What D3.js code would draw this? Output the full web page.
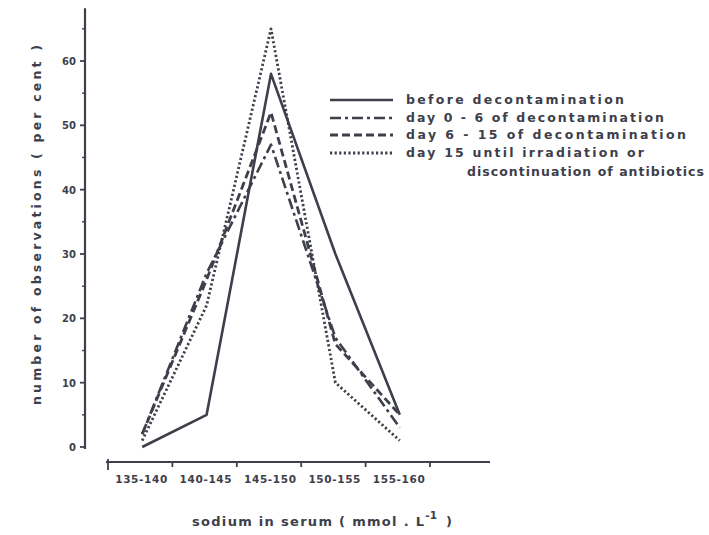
<!DOCTYPE html>
<html>
<head>
<meta charset="utf-8">
<script src="https://cdn.jsdelivr.net/npm/d3@7"></script>
<style>
  html, body { margin: 0; padding: 0; background: #fff; }
  svg text { font-family: "DejaVu Sans", Lato, sans-serif; font-weight: bold; fill: #3d404b; }
</style>
</head>
<body>
<svg id="chart" width="709" height="535"></svg>
<script>
// Sodium ranges (mmol/l) on the x axis
const categories = ["135-140", "140-145", "145-150", "150-155", "155-160"];

// Percentage of observations per period
const beforeDecon = [0, 5, 58, 30, 5];
const day0to6 = [2, 27, 47, 17, 3];
const day6to15 = [2, 26, 52, 16, 5];
const day15on = [1, 22, 65, 10, 1];

const yTicks = [0, 10, 20, 30, 40, 50, 60];
const yMinorTicks = [5, 15, 25, 35, 45, 55, 65];

const seriesNames = [
  ["before decontamination"],
  ["day 0 - 6 of decontamination"],
  ["day 6 - 15 of decontamination"],
  ["day 15 until irradiation or", "discontinuation of antibiotics"]
];

const ink = "#3d404b";
const svg = d3.select("#chart");

const x = d3.scaleBand().domain(categories).range([108, 430]);
const y = d3.scaleLinear().domain([0, 60]).range([447, 61]);

// stretch a text element to a given width by spacing its letters
function fit(sel, w) {
  return sel.attr("textLength", w).attr("lengthAdjust", "spacing");
}

// y axis
const yAxisX = 85;
svg.append("line")
  .attr("x1", yAxisX).attr("x2", yAxisX)
  .attr("y1", y(68.2)).attr("y2", y(-0.3))
  .attr("stroke", ink).attr("stroke-width", 2.2);

svg.selectAll(".ymaj").data(yTicks).join("line")
  .attr("x1", yAxisX - 5).attr("x2", yAxisX)
  .attr("y1", d => y(d)).attr("y2", d => y(d))
  .attr("stroke", ink).attr("stroke-width", 1.8);

svg.selectAll(".ymin").data(yMinorTicks).join("line")
  .attr("x1", yAxisX - 3).attr("x2", yAxisX)
  .attr("y1", d => y(d)).attr("y2", d => y(d))
  .attr("stroke", ink).attr("stroke-width", 1.4);

svg.selectAll(".ylab").data(yTicks).join("text")
  .attr("x", yAxisX - 9).attr("y", d => y(d) + 4)
  .attr("text-anchor", "end")
  .attr("font-size", 10)
  .text(d => d);

// x axis
const xAxisY = 462;
svg.append("line")
  .attr("x1", 106).attr("x2", 490)
  .attr("y1", xAxisY).attr("y2", xAxisY)
  .attr("stroke", ink).attr("stroke-width", 2.2);

const bounds = categories.map(c => x(c)).concat([x.range()[1]]);
svg.selectAll(".xtick").data(bounds).join("line")
  .attr("x1", d => d).attr("x2", d => d)
  .attr("y1", (d, i) => i === 0 ? xAxisY - 3 : xAxisY)
  .attr("y2", (d, i) => i === 0 ? xAxisY + 8 : xAxisY + 5)
  .attr("stroke", ink).attr("stroke-width", 1.8);

svg.selectAll(".xlab").data(categories).join("text")
  .attr("x", d => x(d) + x.bandwidth() / 2 - 25)
  .attr("y", 483)
  .attr("font-size", 10.5)
  .attr("textLength", 52).attr("lengthAdjust", "spacing")
  .text(d => d);

// axis titles
fit(svg.append("text")
  .attr("transform", "translate(41,405) rotate(-90)")
  .attr("font-size", 12.5)
  .text("number  of observations  ( per cent )"), 360);

const xTitle = svg.append("text")
  .attr("x", 192).attr("y", 526)
  .attr("font-size", 13);
fit(xTitle.append("tspan"), 232).text("sodium in serum ( mmol . L");
xTitle.append("tspan").attr("dy", -7).attr("font-size", 10.5).text("-1");
fit(xTitle.append("tspan").attr("dx", 9).attr("dy", 7), 8).text(")");

// series lines
const styles = [
  { data: beforeDecon, dash: null, width: 2.6 },
  { data: day0to6, dash: "11,4,3,4", width: 2.6 },
  { data: day6to15, dash: "8,4", width: 2.8 },
  { data: day15on, dash: "2.2,2.4", width: 2.8 }
];

const line = d3.line()
  .x((d, i) => x(categories[i]) + x.bandwidth() / 2 + 2)
  .y(d => y(d));

svg.selectAll(".series").data(styles).join("path")
  .attr("d", s => line(s.data))
  .attr("fill", "none")
  .attr("stroke", ink)
  .attr("stroke-width", s => s.width)
  .attr("stroke-dasharray", s => s.dash)
  .attr("stroke-linejoin", "round");

// legend
const legendRows = [100, 118, 135, 153];
const legendWidths = [[218], [258], [280], [238, 237]];
styles.forEach((s, i) => {
  const ly = legendRows[i];
  svg.append("line")
    .attr("x1", 330).attr("x2", 393)
    .attr("y1", ly).attr("y2", ly)
    .attr("stroke", ink)
    .attr("stroke-width", s.width)
    .attr("stroke-dasharray", s.dash);
  seriesNames[i].forEach((t, j) => {
    fit(svg.append("text")
      .attr("x", j === 0 ? 406 : 467)
      .attr("y", ly + 4 + j * 19)
      .attr("font-size", 12.5)
      .text(t), legendWidths[i][j]);
  });
});
</script>
</body>
</html>
